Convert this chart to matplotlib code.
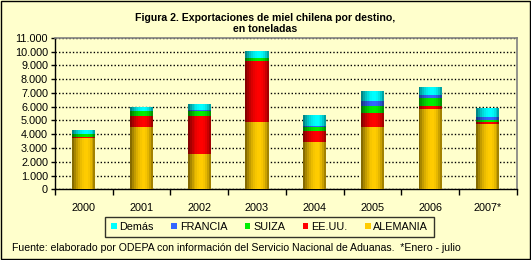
import numpy as np
import matplotlib.pyplot as plt
from matplotlib.patches import Rectangle

plt.rcParams["font.family"] = ["Liberation Sans", "DejaVu Sans"]

years = ["2000", "2001", "2002", "2003", "2004", "2005", "2006", "2007*"]
alemania = [3710, 4530, 2580, 4890, 3440, 4530, 5840, 4750]
eeuu = [70, 800, 2750, 4440, 800, 1020, 220, 140]
suiza = [240, 360, 360, 220, 290, 510, 580, 150]
francia = [0, 0, 80, 0, 70, 360, 220, 220]
demas = [290, 300, 430, 510, 810, 730, 580, 650]

series = [
    ("ALEMANIA", alemania, "#ffcc00"),
    ("EE.UU.", eeuu, "#ff0000"),
    ("SUIZA", suiza, "#00ee00"),
    ("FRANCIA", francia, "#3366ff"),
    ("Demás", demas, "#00ffff"),
]

bg = "#ffffcc"
fig = plt.figure(figsize=(5.31, 2.60), dpi=100, facecolor=bg)
fig.patches.append(Rectangle((0.001, 0.002), 0.997, 0.995, transform=fig.transFigure,
                             fill=False, edgecolor="black", linewidth=1))
ax = fig.add_axes([0.1036, 0.272, 0.8694, 0.582])
ax.set_facecolor(bg)

x = np.arange(len(years))
width = 0.4
bottom = np.zeros(len(years))
handles = {}

# cylinder-like shading: bars drawn as thin vertical strips,
# dark left edge, bright at ~60 %, darker right edge
n_strips = 12
t = (np.arange(n_strips) + 0.5) / n_strips
fade = np.where(t < 0.6,
                0.45 + 0.55 * (1 - ((0.6 - t) / 0.6) ** 2),
                0.55 + 0.45 * (1 - ((t - 0.6) / 0.4) ** 2))

for name, vals, col in series:
    vals = np.array(vals)
    handles[name] = ax.bar(x, vals, width=width, bottom=bottom, color=col,
                           linewidth=0, zorder=3)
    rgb = np.array(plt.matplotlib.colors.to_rgb(col))
    for k in range(n_strips):
        ax.bar(x - width / 2 + t[k] * width, vals, width=width / n_strips,
               bottom=bottom, color=rgb * fade[k], linewidth=0,
               antialiased=False, zorder=4)
    bottom += vals

ax.set_xlim(-0.5, len(years) - 0.5)
ax.set_ylim(0, 11000)
ax.set_yticks(np.arange(0, 11001, 1000))
ax.set_yticklabels([f"{v:,}".replace(",", ".") for v in range(0, 11001, 1000)],
                   fontsize=7.8)
ax.set_xticks(x)
ax.set_xticklabels(years, fontsize=7.8)
ax.set_xticks(np.arange(-0.5, len(years), 1), minor=True)
ax.tick_params(axis="x", which="major", length=0, pad=10)
ax.tick_params(axis="x", which="minor", length=4, direction="out", width=1)
ax.tick_params(axis="y", length=3, direction="out", width=1, pad=2)
ax.yaxis.grid(True, color="black", linestyle=(0, (1, 1.5)), linewidth=1)
ax.set_axisbelow(True)
for s in ["top", "right"]:
    ax.spines[s].set_color("#808080")
    ax.spines[s].set_linewidth(1.2)
for s in ["left", "bottom"]:
    ax.spines[s].set_color("black")
    ax.spines[s].set_linewidth(1)

fig.text(0.5, 0.95, "Figura 2. Exportaciones de miel chilena por destino,\nen toneladas",
         ha="center", va="top", fontsize=7.6, fontweight="bold", linespacing=1.15)

order = ["Demás", "FRANCIA", "SUIZA", "EE.UU.", "ALEMANIA"]
leg = fig.legend([handles[n] for n in order], order, loc="center",
                 bbox_to_anchor=(0.5075, 0.127), ncol=5, fontsize=7.8,
                 frameon=True, fancybox=False, edgecolor="black", facecolor=bg,
                 handlelength=0.55, handleheight=0.55, handletextpad=0.25,
                 columnspacing=1.6, borderpad=0.5)
leg.get_frame().set_linewidth(1)

fig.text(0.022, 0.045,
         "Fuente: elaborado por ODEPA con información del Servicio Nacional de Aduanas.  *Enero - julio",
         ha="left", va="center", fontsize=7.6)

fig.savefig("out.png", dpi=100, facecolor=bg)
